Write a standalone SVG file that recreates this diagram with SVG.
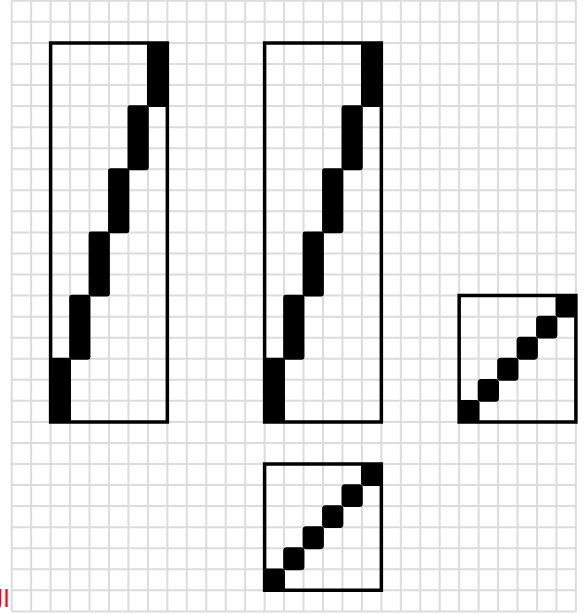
<svg xmlns="http://www.w3.org/2000/svg" width="586" height="614" viewBox="0 0 586 614">
<style>
.grid{fill:none;stroke:#dcdcdc;stroke-width:2;vector-effect:non-scaling-stroke}
.frame{fill:none;stroke:#000;stroke-width:3.5;vector-effect:non-scaling-stroke}
.blk{fill:#000;stroke:#000;stroke-width:1.8;stroke-linejoin:round;vector-effect:non-scaling-stroke}
.lbl{font-family:"DejaVu Sans","Noto Sans",sans-serif;font-size:24px;fill:#ff0000}
</style>
<rect x="0" y="0" width="586" height="614" fill="#ffffff"/>
<g transform="translate(11.7,0.8) scale(0.97275,1.05275)">
<path id="grid" class="grid" d="M0 0V580M20 0V580M40 0V580M60 0V580M80 0V580M100 0V580M120 0V580M140 0V580M160 0V580M180 0V580M200 0V580M220 0V580M240 0V580M260 0V580M280 0V580M300 0V580M320 0V580M340 0V580M360 0V580M380 0V580M400 0V580M420 0V580M440 0V580M460 0V580M480 0V580M500 0V580M520 0V580M540 0V580M560 0V580M580 0V580M0 0H580M0 20H580M0 40H580M0 60H580M0 80H580M0 100H580M0 120H580M0 140H580M0 160H580M0 180H580M0 200H580M0 220H580M0 240H580M0 260H580M0 280H580M0 300H580M0 320H580M0 340H580M0 360H580M0 380H580M0 400H580M0 420H580M0 440H580M0 460H580M0 480H580M0 500H580M0 520H580M0 540H580M0 560H580M0 580H580"/>
<g id="tall-left">
<rect class="blk" x="140" y="40" width="20" height="60" rx="1.5"/>
<rect class="blk" x="120" y="100" width="20" height="60" rx="1.5"/>
<rect class="blk" x="100" y="160" width="20" height="60" rx="1.5"/>
<rect class="blk" x="80" y="220" width="20" height="60" rx="1.5"/>
<rect class="blk" x="60" y="280" width="20" height="60" rx="1.5"/>
<rect class="blk" x="40" y="340" width="20" height="60" rx="1.5"/>
<rect class="frame" x="40" y="40" width="120" height="360"/>
</g>
<g id="tall-right">
<rect class="blk" x="360" y="40" width="20" height="60" rx="1.5"/>
<rect class="blk" x="340" y="100" width="20" height="60" rx="1.5"/>
<rect class="blk" x="320" y="160" width="20" height="60" rx="1.5"/>
<rect class="blk" x="300" y="220" width="20" height="60" rx="1.5"/>
<rect class="blk" x="280" y="280" width="20" height="60" rx="1.5"/>
<rect class="blk" x="260" y="340" width="20" height="60" rx="1.5"/>
<rect class="frame" x="260" y="40" width="120" height="360"/>
</g>
<g id="square-right">
<rect class="blk" x="560" y="280" width="20" height="20" rx="2.5"/>
<rect class="blk" x="540" y="300" width="20" height="20" rx="2.5"/>
<rect class="blk" x="520" y="320" width="20" height="20" rx="2.5"/>
<rect class="blk" x="500" y="340" width="20" height="20" rx="2.5"/>
<rect class="blk" x="480" y="360" width="20" height="20" rx="2.5"/>
<rect class="blk" x="460" y="380" width="20" height="20" rx="2.5"/>
<rect class="frame" x="460" y="280" width="120" height="120"/>
</g>
<g id="square-bottom">
<rect class="blk" x="360" y="440" width="20" height="20" rx="2.5"/>
<rect class="blk" x="340" y="460" width="20" height="20" rx="2.5"/>
<rect class="blk" x="320" y="480" width="20" height="20" rx="2.5"/>
<rect class="blk" x="300" y="500" width="20" height="20" rx="2.5"/>
<rect class="blk" x="280" y="520" width="20" height="20" rx="2.5"/>
<rect class="blk" x="260" y="540" width="20" height="20" rx="2.5"/>
<rect class="frame" x="260" y="440" width="120" height="120"/>
</g>
</g>
<text class="lbl" x="10" y="607" text-anchor="end">ال</text>
</svg>
